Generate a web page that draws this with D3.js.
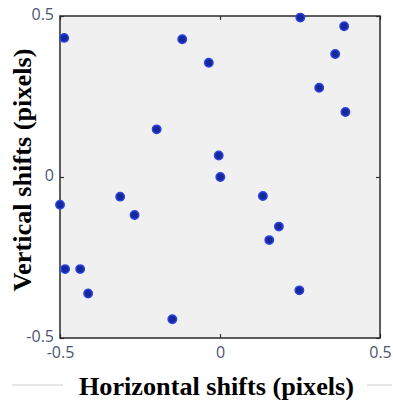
<!DOCTYPE html>
<html>
<head>
<meta charset="utf-8">
<script src="https://cdn.jsdelivr.net/npm/d3@7"></script>
<style>
  html, body { margin: 0; padding: 0; background: #fff; }
  svg { display: block; }
</style>
</head>
<body>
<div id="viz"></div>
<script>
// shift values (pixels)
const xShifts = [-0.487, -0.118, 0.251, 0.388, 0.360, -0.035, 0.310, 0.392, -0.198, -0.004, 0.001,
  -0.500, -0.312, -0.267, 0.134, 0.184, 0.154, -0.484, -0.437, -0.412, 0.248, -0.149];
const yShifts = [0.432, 0.428, 0.495, 0.468, 0.382, 0.355, 0.277, 0.202, 0.148, 0.067, 0.000,
  -0.086, -0.061, -0.118, -0.059, -0.154, -0.196, -0.286, -0.286, -0.362, -0.352, -0.442];
const tickValues = [-0.5, 0, 0.5];
const xTitle = "Horizontal shifts (pixels)";
const yTitle = "Vertical shifts (pixels)";

const width = 393, height = 400;
const margin = { top: 16, right: 13, bottom: 62, left: 60 };

const svg = d3.select("#viz").append("svg")
  .attr("width", width)
  .attr("height", height);

const x = d3.scaleLinear().domain([-0.5, 0.5]).range([margin.left, width - margin.right]);
const y = d3.scaleLinear().domain([-0.5, 0.5]).range([height - margin.bottom, margin.top]);

// plot background
svg.append("rect")
  .attr("x", x(-0.5)).attr("y", y(0.5))
  .attr("width", x(0.5) - x(-0.5)).attr("height", y(-0.5) - y(0.5))
  .attr("fill", "#f0f0f0");

// axes (ticks inside, matlab style)
const fmt = d => String(d);
const styleAxis = g => {
  g.select(".domain").remove();
  g.selectAll(".tick line").attr("stroke", "#333").attr("stroke-width", 1.2);
  g.selectAll(".tick text")
    .attr("fill", "#4a5670")
    .style("font-family", "'Open Sans', sans-serif")
    .style("font-size", "16px");
};

svg.append("g")
  .attr("transform", `translate(0,${y(-0.5)})`)
  .call(d3.axisBottom(x).tickValues(tickValues).tickFormat(fmt).tickSizeInner(-4).tickSizeOuter(0).tickPadding(9))
  .call(styleAxis);
svg.append("g")
  .attr("transform", `translate(0,${y(0.5)})`)
  .call(d3.axisTop(x).tickValues(tickValues).tickFormat("").tickSizeInner(-4).tickSizeOuter(0))
  .call(styleAxis);
svg.append("g")
  .attr("transform", `translate(${x(-0.5)},0)`)
  .call(d3.axisLeft(y).tickValues(tickValues).tickFormat(fmt).tickSizeInner(-4).tickSizeOuter(0).tickPadding(6))
  .call(styleAxis)
  .call(g => g.selectAll(".tick text").attr("dy", "0.2em"));
svg.append("g")
  .attr("transform", `translate(${x(0.5)},0)`)
  .call(d3.axisRight(y).tickValues(tickValues).tickFormat("").tickSizeInner(-4).tickSizeOuter(0))
  .call(styleAxis);

// box
svg.append("rect")
  .attr("x", x(-0.5)).attr("y", y(0.5))
  .attr("width", x(0.5) - x(-0.5)).attr("height", y(-0.5) - y(0.5))
  .attr("fill", "none")
  .attr("stroke", "#2a2a2a")
  .attr("stroke-width", 1.5);

// points
svg.append("g")
  .selectAll("circle")
  .data(xShifts.map((d, i) => ({ x: d, y: yShifts[i] })))
  .join("circle")
  .attr("cx", d => x(d.x))
  .attr("cy", d => y(d.y))
  .attr("r", 4.2)
  .attr("fill", "#16289a")
  .attr("stroke", "#2a44e6")
  .attr("stroke-width", 1.5);

// faint rule behind x title
svg.append("line")
  .attr("x1", 12).attr("x2", 63).attr("y1", 385).attr("y2", 385)
  .attr("stroke", "#e6e6e6").attr("stroke-width", 2);
svg.append("line")
  .attr("x1", 367).attr("x2", 392).attr("y1", 385).attr("y2", 385)
  .attr("stroke", "#e6e6e6").attr("stroke-width", 2);

// axis titles
svg.append("text")
  .attr("x", 216.5)
  .attr("y", 395)
  .attr("text-anchor", "middle")
  .attr("textLength", 275)
  .attr("lengthAdjust", "spacingAndGlyphs")
  .style("font-family", "'Liberation Serif', 'Times New Roman', serif")
  .style("font-weight", "bold")
  .style("font-size", "26px")
  .attr("fill", "#000")
  .text(xTitle);

svg.append("text")
  .attr("transform", "translate(31,170) rotate(-90)")
  .attr("text-anchor", "middle")
  .attr("textLength", 243)
  .attr("lengthAdjust", "spacingAndGlyphs")
  .style("font-family", "'Liberation Serif', 'Times New Roman', serif")
  .style("font-weight", "bold")
  .style("font-size", "26px")
  .attr("fill", "#000")
  .text(yTitle);
</script>
</body>
</html>
